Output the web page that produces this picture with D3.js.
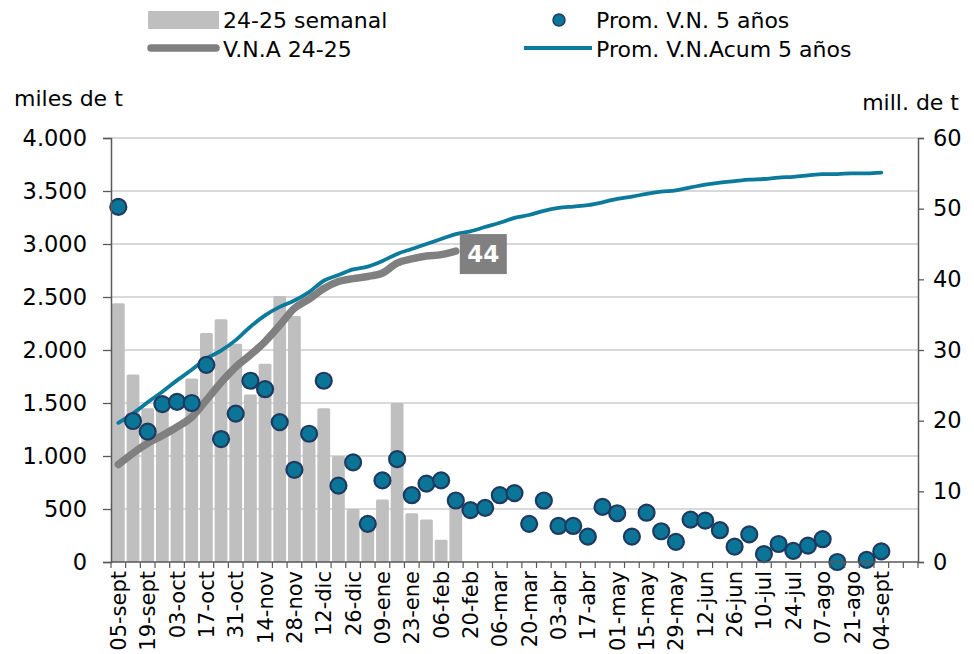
<!DOCTYPE html>
<html>
<head>
<meta charset="utf-8">
<script src="https://cdn.jsdelivr.net/npm/d3@7"></script>
<style>
  html, body { margin: 0; padding: 0; background: #fff; }
  svg { display: block; font-family: "DejaVu Sans", Verdana, sans-serif; }
</style>
</head>
<body>
<svg id="chart" width="974" height="654"></svg>
<script>
// Weekly categories (marketing year, week starting dates)
const weeks = [
  "05-sept","12-sept","19-sept","26-sept","03-oct","10-oct","17-oct","24-oct","31-oct",
  "07-nov","14-nov","21-nov","28-nov","05-dic","12-dic","19-dic","26-dic",
  "02-ene","09-ene","16-ene","23-ene","30-ene","06-feb","13-feb","20-feb","27-feb",
  "06-mar","13-mar","20-mar","27-mar","03-abr","10-abr","17-abr","24-abr",
  "01-may","08-may","15-may","22-may","29-may","05-jun","12-jun","19-jun","26-jun",
  "03-jul","10-jul","17-jul","24-jul","31-jul","07-ago","14-ago","21-ago","28-ago",
  "04-sept","11-sept","18-sept"
];

// Labels printed on the category axis
const tickLabels = [
  "05-sept","19-sept","03-oct","17-oct","31-oct","14-nov","28-nov","12-dic","26-dic",
  "09-ene","23-ene","06-feb","20-feb","06-mar","20-mar","03-abr","17-abr","01-may",
  "15-may","29-may","12-jun","26-jun","10-jul","24-jul","07-ago","21-ago","04-sept"
];

// 24-25 weekly volume (miles de t)
const semanal = [2440,1770,1450,1500,1280,1730,2160,2290,2060,1580,1870,2510,2320,1150,
                 1450,1000,500,380,590,1500,460,400,210,560];

// 5-year average weekly volume (miles de t)
const promVN = [3350,1330,1230,1490,1510,1500,1860,1160,1400,1710,1630,1320,870,1210,1710,
                720,940,360,770,970,630,740,770,580,490,510,630,650,360,580,340,340,240,520,
                460,240,465,290,190,400,390,300,145,260,75,170,105,155,215,0,null,20,100];

// 24-25 accumulated volume (mill. de t)
const vnaAcum = [13.8,15.4,16.8,17.9,19.1,20.5,22.9,25.4,27.6,29.3,31.2,33.5,35.9,37.2,
                 38.7,39.7,40.1,40.4,40.9,42.3,42.9,43.3,43.5,44.0];

// 5-year average accumulated volume (mill. de t)
const promAcum = [19.7,21.0,22.6,24.1,25.7,27.2,28.8,29.9,31.4,33.3,34.9,36.1,37.0,38.2,
                  39.8,40.6,41.4,41.8,42.6,43.6,44.3,45.0,45.7,46.4,46.8,47.4,48.0,48.7,
                  49.1,49.7,50.1,50.3,50.5,50.9,51.4,51.7,52.1,52.4,52.6,53.0,53.4,53.7,
                  53.9,54.1,54.2,54.4,54.5,54.7,54.9,54.9,55.0,55.0,55.1];

const leftTicks = [0,500,1000,1500,2000,2500,3000,3500,4000];
const rightTicks = [0,10,20,30,40,50,60];

const C = {
  bar: "#bfbfbf", vna: "#808080", prom: "#0b7a9b",
  dot: "#0a7596", dotStroke: "#1f3a60", grid: "#d9d9d9", axis: "#595959", text: "#000"
};

const svg = d3.select("#chart");
const plot = { left: 111, right: 918, top: 138, bottom: 562 };

const x = d3.scaleBand().domain(weeks).range([plot.left, plot.right])
  .paddingInner(0.13).paddingOuter(0.065);
const yL = d3.scaleLinear().domain([0, 4000]).range([plot.bottom, plot.top]);
const yR = d3.scaleLinear().domain([0, 60]).range([plot.bottom, plot.top]);
const cx = i => x(weeks[i]) + x.bandwidth() / 2;

const es = d3.formatLocale({ decimal: ",", thousands: ".", grouping: [3], currency: ["", ""] });
const fmtL = es.format(",");

// gridlines
svg.append("g").selectAll("line").data(leftTicks.filter(t => t > 0)).join("line")
  .attr("x1", plot.left).attr("x2", plot.right)
  .attr("y1", d => yL(d)).attr("y2", d => yL(d))
  .attr("stroke", C.grid).attr("stroke-width", 2);

// weekly bars
svg.append("g").selectAll("rect").data(semanal).join("rect")
  .attr("x", (d, i) => x(weeks[i]))
  .attr("y", d => yL(d))
  .attr("width", x.bandwidth())
  .attr("height", d => yL(0) - yL(d))
  .attr("rx", 1.5)
  .attr("fill", C.bar);

// accumulated 24-25
const lineR = d3.line().defined(d => d != null).x((d, i) => cx(i)).y(d => yR(d))
  .curve(d3.curveMonotoneX);
svg.append("path").datum(vnaAcum).attr("d", lineR)
  .attr("fill", "none").attr("stroke", C.vna).attr("stroke-width", 7.5)
  .attr("stroke-linecap", "round").attr("stroke-linejoin", "round");

// 5-year accumulated average
svg.append("path").datum(promAcum).attr("d", lineR)
  .attr("fill", "none").attr("stroke", C.prom).attr("stroke-width", 3.8)
  .attr("stroke-linecap", "round").attr("stroke-linejoin", "round");

// 5-year weekly average points
svg.append("g").selectAll("circle")
  .data(promVN.map((v, i) => ({ v, i })).filter(d => d.v != null)).join("circle")
  .attr("cx", d => cx(d.i)).attr("cy", d => yL(d.v)).attr("r", 8)
  .attr("fill", C.dot).attr("stroke", C.dotStroke).attr("stroke-width", 2.2);

// end label for 24-25 accumulated
const lastI = vnaAcum.length - 1;
const lastV = vnaAcum[lastI];
const lab = svg.append("g")
  .attr("transform", `translate(${cx(lastI) + 4},${yR(lastV) + 3})`);
lab.append("rect").attr("x", 0).attr("y", -20).attr("width", 47).attr("height", 40)
  .attr("fill", C.vna);
lab.append("text").attr("x", 23.5).attr("y", 0).attr("dy", "0.36em")
  .attr("text-anchor", "middle").attr("fill", "#fff")
  .attr("font-size", 23).attr("font-weight", "bold")
  .text(d3.format(".0f")(lastV));

// left axis
const gL = svg.append("g").attr("transform", `translate(${plot.left},0)`)
  .call(d3.axisLeft(yL).tickValues(leftTicks).tickFormat(fmtL).tickSize(8).tickPadding(16));
gL.selectAll("text").attr("font-size", 22.5).attr("fill", C.text)
  .attr("font-family", "DejaVu Sans, sans-serif");

// right axis
const gR = svg.append("g").attr("transform", `translate(${plot.right},0)`)
  .call(d3.axisRight(yR).tickValues(rightTicks).tickSize(6).tickPadding(9));
gR.selectAll("text").attr("font-size", 22.5).attr("fill", C.text)
  .attr("font-family", "DejaVu Sans, sans-serif");

[gL, gR].forEach(g => {
  g.select(".domain").attr("stroke", C.axis).attr("stroke-width", 1.5);
  g.selectAll(".tick line").attr("stroke", C.axis).attr("stroke-width", 1.3);
});

// category axis
const gX = svg.append("g").attr("transform", `translate(0,${plot.bottom})`)
  .call(d3.axisBottom(x).tickValues(tickLabels).tickSize(0).tickPadding(0));
gX.select(".domain").remove();
gX.selectAll("text")
  .attr("font-size", 21).attr("fill", C.text)
  .attr("font-family", "DejaVu Sans, sans-serif")
  .attr("text-anchor", "end")
  .attr("transform", "rotate(-90)")
  .attr("x", -9).attr("y", 0).attr("dy", "0.36em");

svg.append("line").attr("x1", plot.left).attr("x2", plot.right)
  .attr("y1", plot.bottom).attr("y2", plot.bottom)
  .attr("stroke", C.axis).attr("stroke-width", 1.5);
svg.append("g").selectAll("line").data(d3.range(weeks.length + 1)).join("line")
  .attr("x1", k => plot.left + k * x.step()).attr("x2", k => plot.left + k * x.step())
  .attr("y1", plot.bottom).attr("y2", plot.bottom + 6)
  .attr("stroke", C.axis).attr("stroke-width", 1.2);

// unit titles
svg.append("text").attr("x", 14).attr("y", 98).attr("dy", "0.36em")
  .attr("font-size", 22).text("miles de t");
svg.append("text").attr("x", 959).attr("y", 102).attr("dy", "0.36em")
  .attr("text-anchor", "end").attr("font-size", 22).text("mill. de t");

// legend
const lg = svg.append("g").attr("font-size", 22);
lg.append("rect").attr("x", 148).attr("y", 11).attr("width", 71).attr("height", 18)
  .attr("fill", C.bar);
lg.append("text").attr("x", 223).attr("y", 20).attr("dy", "0.36em").text("24-25 semanal");
lg.append("line").attr("x1", 151).attr("x2", 216).attr("y1", 48).attr("y2", 48)
  .attr("stroke", C.vna).attr("stroke-width", 7.5).attr("stroke-linecap", "round");
lg.append("text").attr("x", 223).attr("y", 49).attr("dy", "0.36em").text("V.N.A 24-25");
lg.append("circle").attr("cx", 559).attr("cy", 20).attr("r", 6)
  .attr("fill", C.dot).attr("stroke", C.dotStroke).attr("stroke-width", 1.5);
lg.append("text").attr("x", 596).attr("y", 20).attr("dy", "0.36em").text("Prom. V.N. 5 años");
lg.append("line").attr("x1", 524).attr("x2", 592).attr("y1", 48).attr("y2", 48)
  .attr("stroke", C.prom).attr("stroke-width", 3.8);
lg.append("text").attr("x", 596).attr("y", 49).attr("dy", "0.36em").text("Prom. V.N.Acum 5 años");
</script>
</body>
</html>
